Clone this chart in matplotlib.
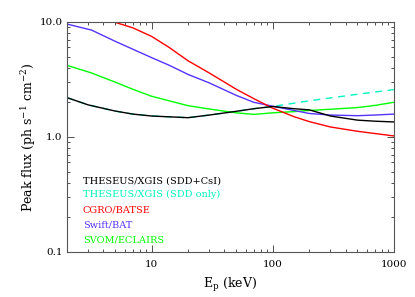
import matplotlib
matplotlib.use("Agg")
import matplotlib.pyplot as plt
from matplotlib.ticker import LogLocator, FixedLocator, FixedFormatter, NullFormatter

# Data
E_xgis = [2, 3, 5, 7, 10, 20, 30, 50, 70, 100, 150, 200, 300, 500, 700, 1000]
F_xgis = [2.2, 1.9, 1.68, 1.58, 1.52, 1.47, 1.55, 1.67, 1.76, 1.84, 1.76, 1.72, 1.52, 1.40, 1.37, 1.35]

E_sdd = [2, 3, 5, 7, 10, 20, 30, 50, 70, 100, 200, 500, 1000]
F_sdd = [2.2, 1.9, 1.68, 1.58, 1.52, 1.47, 1.55, 1.67, 1.76, 1.84, 2.06, 2.35, 2.58]

E_batse = [4.9, 7, 10, 14, 20, 30, 50, 70, 100, 150, 200, 300, 500, 700, 1000]
F_batse = [10.0, 8.9, 7.5, 6.0, 4.6, 3.6, 2.6, 2.15, 1.78, 1.5, 1.36, 1.22, 1.12, 1.07, 1.02]

E_bat = [2, 3.2, 5, 7, 10, 14, 20, 30, 50, 70, 100, 150, 200, 300, 500, 700, 1000]
F_bat = [9.6, 8.5, 6.8, 5.8, 4.9, 4.2, 3.5, 2.95, 2.3, 2.0, 1.85, 1.7, 1.6, 1.55, 1.53, 1.55, 1.58]

E_eclairs = [2, 3.2, 5, 7, 10, 20, 30, 50, 70, 100, 150, 200, 300, 500, 700, 1000]
F_eclairs = [4.2, 3.6, 3.0, 2.6, 2.26, 1.87, 1.75, 1.62, 1.57, 1.62, 1.66, 1.70, 1.74, 1.80, 1.88, 2.0]

labels = ["THESEUS/XGIS (SDD+CsI)", "THESEUS/XGIS (SDD only)", "CGRO/BATSE", "Swift/BAT", "SVOM/ECLAIRS"]
colors = ["#000000", "#00f5c0", "#ff0000", "#5533ff", "#00ff00"]

xticks = [10, 100, 1000]
xticklabels = ["10", "100", "1000"]
yticks = [0.1, 1.0, 10.0]
yticklabels = ["0.1", "1.0", "10.0"]

plt.rcParams['font.family'] = ['DejaVu Serif']
plt.rcParams['mathtext.fontset'] = 'dejavuserif'

fig = plt.figure(figsize=(4.15, 2.97), dpi=100)
ax = fig.add_axes([0.161, 0.152, 0.788, 0.774])

ax.plot(E_sdd, F_sdd, color=colors[1], lw=1.0, ls=(0, (5, 4)))
ax.plot(E_eclairs, F_eclairs, color=colors[4], lw=1.0)
ax.plot(E_bat, F_bat, color=colors[3], lw=1.0)
ax.plot(E_batse, F_batse, color=colors[2], lw=1.0)
ax.plot(E_xgis, F_xgis, color=colors[0], lw=1.0)

ax.set_xscale('log')
ax.set_yscale('log')
ax.set_xlim(2, 1000)
ax.set_ylim(0.1, 10)

ax.xaxis.set_major_locator(FixedLocator(xticks))
ax.xaxis.set_major_formatter(FixedFormatter(xticklabels))
ax.yaxis.set_major_locator(FixedLocator(yticks))
ax.yaxis.set_major_formatter(FixedFormatter(yticklabels))
ax.xaxis.set_minor_locator(LogLocator(base=10, subs=range(2, 10)))
ax.yaxis.set_minor_locator(LogLocator(base=10, subs=range(2, 10)))
ax.xaxis.set_minor_formatter(NullFormatter())
ax.yaxis.set_minor_formatter(NullFormatter())

ax.tick_params(which='both', direction='in', top=True, right=True, labelsize=7.5, width=0.6, colors='#333333', labelcolor='black')
ax.tick_params(which='major', length=5)
ax.tick_params(axis='x', which='major', pad=6)
ax.tick_params(axis='y', which='major', pad=3)
ax.tick_params(which='minor', length=2.5)
for s in ax.spines.values():
    s.set_linewidth(0.8)
    s.set_color('#555555')

ax.set_xlabel(r"E$_{\rm p}$ (keV)", fontsize=9, labelpad=5)
ax.set_ylabel(r"Peak flux (ph s$^{-1}$ cm$^{-2}$)", fontsize=9, labelpad=1)

ypos = [0.309, 0.248, 0.182, 0.117, 0.052]
for lab, c, yp in zip(labels, colors, ypos):
    ax.text(0.049, yp, lab, color=c, fontsize=7.0, transform=ax.transAxes, va='center', ha='left')

fig.savefig("out.png", dpi=100)
